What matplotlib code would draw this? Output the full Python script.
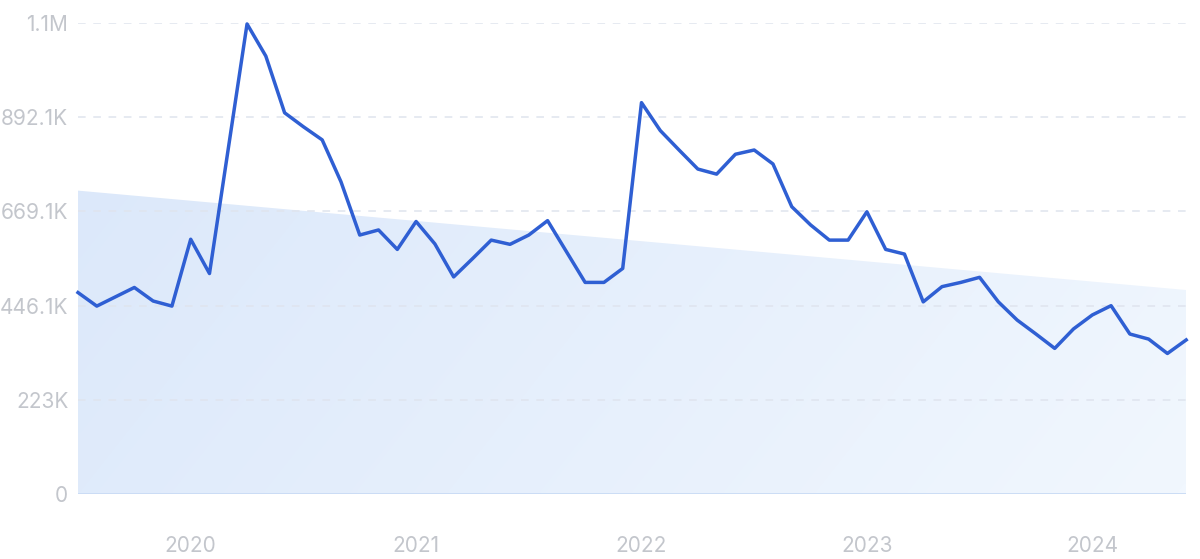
import numpy as np
import pandas as pd
import matplotlib
matplotlib.use('Agg')
import matplotlib.pyplot as plt
from matplotlib.colors import LinearSegmentedColormap
from matplotlib.patches import Polygon

# monthly values in thousands, Jul 2019 .. Jun 2024
months = pd.date_range('2019-07-01', '2024-06-01', freq='MS')
values = [477, 445, 467, 489, 457, 445,
          603, 522, 817, 1112, 1036, 902, 869, 838, 739, 613, 625, 579,
          645, 592, 514, 557, 601, 591, 613, 647, 574, 501, 501, 534,
          926, 860, 814, 769, 757, 804, 814, 781, 680, 637, 601, 601,
          668, 579, 568, 455, 491, 501, 513, 455, 412, 379, 345, 391,
          424, 446, 379, 367, 333, 365]
# trend line ends (thousands)
trend_ends = [718, 483]
yticks = [0, 223, 446.1, 669.1, 892.1, 1115]
ytick_labels = ['0', '223K', '446.1K', '669.1K', '892.1K', '1.1M']
years = ['2020', '2021', '2022', '2023', '2024']

plt.rcParams['font.family'] = ['Inter', 'DejaVu Sans']

fig = plt.figure(figsize=(12, 5.59), dpi=100)
ax = fig.add_axes([0.065, 0.1157, 0.9235, 0.8437])

x = np.arange(len(values))
ax.set_xlim(0, len(values) - 1)
ax.set_ylim(0, 1115)

# gradient filled trend band, darker top-left, lighter bottom-right
xe = [0, len(values) - 1]
poly = Polygon([[xe[0], 0], [xe[0], trend_ends[0]], [xe[1], trend_ends[1]], [xe[1], 0]],
               closed=True, facecolor='none', edgecolor='none')
ax.add_patch(poly)
cmap = LinearSegmentedColormap.from_list('band', ['#dae7fa', '#f1f7fe'])
gx, gy = np.meshgrid(np.linspace(0, 1, 200), np.linspace(0, 1, 100))
grad = gx * 0.75 + gy * 0.25
im = ax.imshow(grad, cmap=cmap, extent=[xe[0], xe[1], 0, 1115], origin='upper',
               aspect='auto', zorder=0, interpolation='bilinear')
im.set_clip_path(poly)

for t in yticks[1:]:
    ax.axhline(t, color='#dfe4ee', lw=1.1, ls=(0, (5, 5)), zorder=1)
ax.axhline(0, color='#c9dbf5', lw=1.3, zorder=1)

ax.plot(x, values, color='#2f5fd3', lw=2.5, solid_joinstyle='round', zorder=3, clip_on=False)

for s in ax.spines.values():
    s.set_visible(False)
ax.set_yticks(yticks)
ax.set_yticklabels(ytick_labels)
ax.set_xticks([6 + 12 * i for i in range(len(years))])
ax.set_xticklabels(years)
ax.tick_params(axis='both', length=0, labelcolor='#c3c6cc', labelsize=15)
ax.tick_params(axis='y', pad=7)
ax.tick_params(axis='x', pad=30)

fig.savefig('out.png', dpi=100, facecolor='white')
